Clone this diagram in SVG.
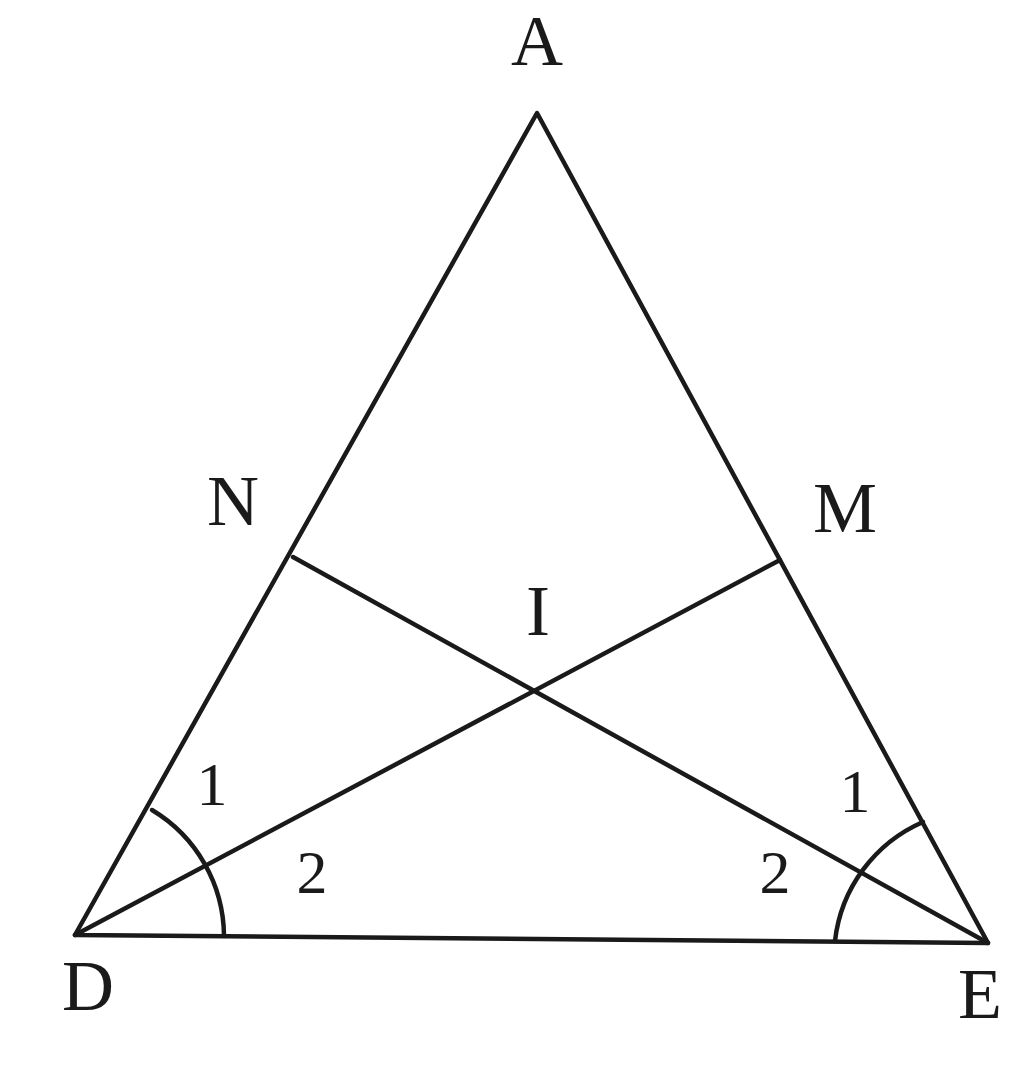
<svg xmlns="http://www.w3.org/2000/svg" width="1024" height="1065" viewBox="0 0 1024 1065">
<style>
.l{stroke:#1a1a1a;stroke-width:4.5;fill:none;stroke-linecap:round;stroke-linejoin:round}
.t{font-family:"Liberation Serif","DejaVu Serif",serif;font-size:72px;fill:#1a1a1a;text-anchor:middle}
.n{font-family:"Liberation Serif","DejaVu Serif",serif;font-size:62px;fill:#1a1a1a;text-anchor:middle}
</style>
<rect width="1024" height="1065" fill="#ffffff"/>
<g id="connectors">
<path class="l" d="M537,113 L75,935 L988,943 Z"/>
<line class="l" x1="293" y1="557" x2="988" y2="943"/>
<line class="l" x1="780" y1="560" x2="75" y2="935"/>
<path class="l" d="M152,810 A148,148 0 0 1 224,936"/>
<path class="l" d="M923,822 A148,148 0 0 0 835,941"/>
</g>
<g id="A"><text class="t" x="537" y="65">A</text></g>
<g id="N"><text class="t" x="233" y="525">N</text></g>
<g id="M"><text class="t" x="845" y="532">M</text></g>
<g id="I"><text class="t" x="538" y="635">I</text></g>
<g id="D"><text class="t" x="88" y="1010">D</text></g>
<g id="E"><text class="t" x="980" y="1018">E</text></g>
<g id="labels">
<text class="n" x="212" y="805">1</text>
<text class="n" x="312" y="893">2</text>
<text class="n" x="855" y="812">1</text>
<text class="n" x="775" y="893">2</text>
</g>
</svg>
